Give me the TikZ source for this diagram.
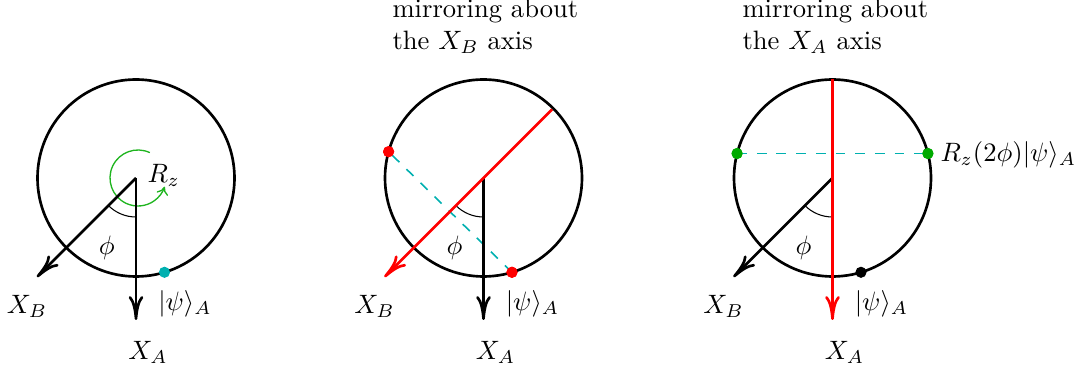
\documentclass[tikz,border=0pt]{standalone}
\usetikzlibrary{arrows.meta}
\definecolor{dotcyan}{RGB}{0,176,176}
\definecolor{dotgreen}{RGB}{0,170,0}
\definecolor{rotgreen}{RGB}{30,180,30}
\begin{document}
\begin{tikzpicture}[x=0.376pt,y=0.376pt,
  axis/.style={line width=1pt,-{To[length=9pt,width=5.5pt]}},
  rim/.style={line width=1pt},
  anglearc/.style={line width=0.4pt},
  mirror/.style={dotcyan, line width=0.6pt, dash pattern=on 3.7pt off 3.7pt},
  pt/.style={circle, fill=#1, inner sep=0pt, minimum size=4.2pt},
  lbl/.style={inner sep=0pt}]
\useasboundingbox (-136,-194) rectangle (942,178);
% ---------- panel 1 ----------
\begin{scope}
  \coordinate (c1) at (0,0);
  \coordinate (a1) at (0,-142);
  \coordinate (b1) at (225:140);
  \draw[rim] (c1) circle (98.5);
  \draw[anglearc] (225:39) arc (225:270:39);
  \draw[rotgreen, line width=0.5pt, -{To[length=3pt,width=4.5pt]}] (2,0) ++(65:28) arc (65:342:28);
  \draw[axis] (c1) -- (a1);
  \draw[axis] (c1) -- (b1);
  \node[pt=dotcyan] (p1) at (-73.2:98.5) {};
  \node[lbl] (xb1) at (-109,-128) {$X_B$};
  \node[lbl] (xa1) at (12,-174) {$X_A$};
  \node[lbl] (ps1) at (49,-126) {$|\psi\rangle_A$};
  \node[lbl] (phi1) at (247.5:76) {$\phi$};
  \node[lbl, anchor=west] (rz1) at (11,3) {$R_z$};
\end{scope}
% ---------- panel 2 ----------
\begin{scope}[shift={(347.5,0)}]
  \coordinate (c2) at (0,0);
  \coordinate (a2) at (0,-142);
  \coordinate (b2) at (225:140);
  \coordinate (u2) at (45:97);
  \draw[rim] (c2) circle (98.5);
  \node[pt=red] (p2) at (-73.2:98.5) {};
  \node[pt=red] (m2) at (164.5:98.5) {};
  \draw[mirror] (p2.center) -- (m2.center);
  \draw[anglearc] (225:39) arc (225:270:39);
  \draw[axis] (c2) -- (a2);
  \draw[axis, red] (u2) -- (b2);
  \node[pt=red] at (p2) {};
  \node[pt=red] at (m2) {};
  \node[lbl] (xb2) at (-109,-128) {$X_B$};
  \node[lbl] (xa2) at (12,-174) {$X_A$};
  \node[lbl] (ps2) at (49,-126) {$|\psi\rangle_A$};
  \node[lbl] (phi2) at (247.5:76) {$\phi$};
  \node[lbl, anchor=base west] (t2a) at (-91.5,160) {mirroring about};
  \node[lbl, anchor=base west] (t2b) at (-91.5,128) {the $X_B$ axis};
\end{scope}
% ---------- panel 3 ----------
\begin{scope}[shift={(696.5,0)}]
  \coordinate (c3) at (0,0);
  \coordinate (a3) at (0,-142);
  \coordinate (b3) at (225:140);
  \coordinate (u3) at (90:98.5);
  \draw[rim] (c3) circle (98.5);
  \node[pt=dotgreen] (g3l) at (165.6:98.5) {};
  \node[pt=dotgreen] (g3r) at (14.4:98.5) {};
  \draw[mirror] (g3l.center) -- (g3r.center);
  \draw[anglearc] (225:39) arc (225:270:39);
  \draw[axis] (c3) -- (b3);
  \draw[axis, red] (u3) -- (a3);
  \node[pt=dotgreen] at (g3l) {};
  \node[pt=dotgreen] at (g3r) {};
  \node[pt=black] (p3) at (-73.2:98.5) {};
  \node[lbl] (xb3) at (-109,-128) {$X_B$};
  \node[lbl] (xa3) at (12,-174) {$X_A$};
  \node[lbl] (ps3) at (49,-126) {$|\psi\rangle_A$};
  \node[lbl] (phi3) at (247.5:76) {$\phi$};
  \node[lbl, anchor=west] (rz3) at (107.5,23) {$R_z(2\phi)|\psi\rangle_A$};
  \node[lbl, anchor=base west] (t3a) at (-90.5,160) {mirroring about};
  \node[lbl, anchor=base west] (t3b) at (-90.5,128) {the $X_A$ axis};
\end{scope}
\end{tikzpicture}
\end{document}
